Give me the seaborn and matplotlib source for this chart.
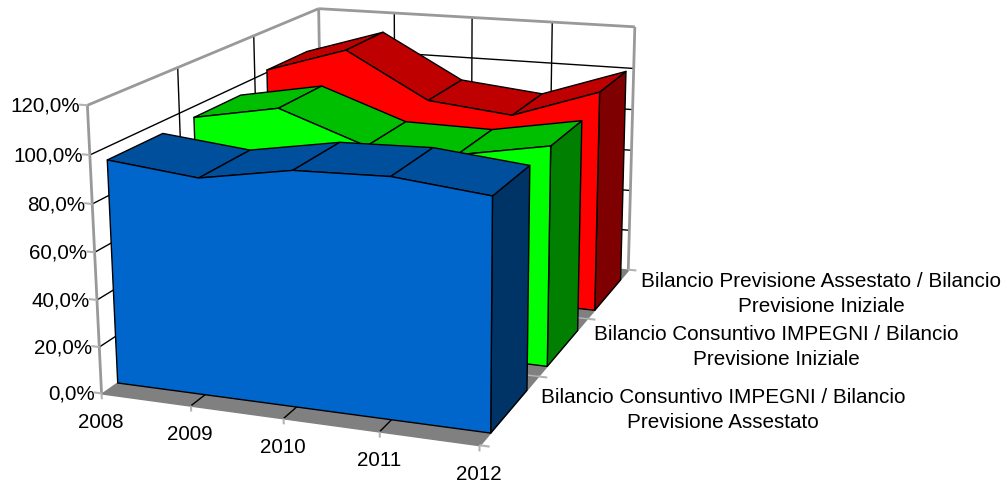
import matplotlib
matplotlib.use("Agg")
from matplotlib import pyplot as plt
from mpl_toolkits.mplot3d import proj3d
from mpl_toolkits.mplot3d.art3d import Poly3DCollection
import seaborn as sns

years = ["2008", "2009", "2010", "2011", "2012"]
pct_ticks = [0, 20, 40, 60, 80, 100, 120]
series_labels = [
    "Bilancio Consuntivo IMPEGNI / Bilancio\nPrevisione Assestato",
    "Bilancio Consuntivo IMPEGNI / Bilancio\nPrevisione Iniziale",
    "Bilancio Previsione Assestato / Bilancio\nPrevisione Iniziale",
]
consuntivo_assestato = [95, 91, 97.5, 98.5, 94.5]
consuntivo_iniziale = [95.5, 102.5, 89, 88.5, 95.5]
assestato_iniziale = [101.5, 113.5, 92.5, 88.5, 102]
series_values = [consuntivo_assestato, consuntivo_iniziale, assestato_iniziale]

# front, top and side shades of each series
series_colors = [
    ("#0066CC", "#004F9C", "#003366"),
    ("#00FF00", "#00BF00", "#007F00"),
    ("#FF0000", "#BF0000", "#7F0000"),
]

sns.set_theme(style="white")
plt.rcParams["font.family"] = ["Liberation Sans", "DejaVu Sans"]

FRAME = "#999999"
TICK = "#B3B3B3"
FONT = 14.9

fig = plt.figure(figsize=(10.07, 4.86), dpi=100)
ax = fig.add_axes([-125.62 / 1007, -0.5 + 18.887 / 486, 1000 / 1007, 1000 / 486], projection="3d")
ax.set_autoscale_on(False)
ax.computed_zorder = False
ax.set_axis_off()

n_x = len(years) - 1
n_y = len(series_labels)
z_top = pct_ticks[-1]
ax.set_xlim(0, n_x, view_margin=0)
ax.set_ylim(0, n_y, view_margin=0)
ax.set_zlim(0, z_top, view_margin=0)
ax.view_init(15.2588, -69.2639, 0.4169)
ax.set_proj_type("persp", focal_length=0.3565)
ax.set_box_aspect((1.346, 1.9565, 1), zoom=0.6832)

order = [0]


def face(verts, fill, edge="black", lw=1.0):
    order[0] += 1
    poly = Poly3DCollection([verts], facecolors=fill, edgecolors=edge, linewidths=lw, zorder=order[0])
    ax.add_collection3d(poly, autolim=False)


def seg(p, q, color="black", lw=1.0):
    order[0] += 1
    ax.plot([p[0], q[0]], [p[1], q[1]], [p[2], q[2]], color=color, lw=lw, zorder=order[0],
            solid_capstyle="butt")


def label(text, x, y, z, dx, dy, ha="center"):
    px, py, _ = proj3d.proj_transform(x, y, z, ax.get_proj())
    ax.annotate(text, xy=(px, py), xytext=(dx, dy), textcoords="offset pixels", ha=ha, va="center",
                ma="center", fontsize=FONT, color="black", annotation_clip=False, linespacing=1.42)


# walls
face([(0, 0, 0), (n_x, 0, 0), (n_x, n_y, 0), (0, n_y, 0)], "#808080", edge="#808080")
for z in pct_ticks[1:-1]:
    seg((0, 0, z), (0, n_y, z))
    seg((0, n_y, z), (n_x, n_y, z))
for x in range(1, n_x):
    seg((x, n_y, 0), (x, n_y, z_top))
    seg((x, 0, 0), (x, n_y, 0))
for y in range(1, n_y):
    seg((0, y, 0), (0, y, z_top))
    seg((0, y, 0), (n_x, y, 0), TICK)
seg((0, 0, 0), (0, 0, z_top), FRAME, 2)
seg((0, n_y, 0), (0, n_y, z_top), FRAME, 2)
seg((n_x, n_y, 0), (n_x, n_y, z_top), FRAME, 2)
seg((0, 0, z_top), (0, n_y, z_top), FRAME, 2)
seg((0, n_y, z_top), (n_x, n_y, z_top), FRAME, 2)

# tick marks
for z in pct_ticks:
    seg((0, 0, z), (-0.09, 0, z), TICK, 1.5)
for x in range(n_x + 1):
    seg((x, 0, 0), (x, 0, -2.5), TICK, 1.5)
for y in range(n_y + 1):
    seg((n_x, y, 0), (n_x + 0.1, y, 0), TICK, 1.5)

# one slab per series, back to front
for i in reversed(range(n_y)):
    y0, y1 = i + 0.17, i + 0.79
    vals = series_values[i]
    front, top, side = series_colors[i]
    face([(n_x, y0, 0), (n_x, y1, 0), (n_x, y1, vals[-1]), (n_x, y0, vals[-1])], side)
    for x in range(n_x):
        face([(x, y0, vals[x]), (x + 1, y0, vals[x + 1]), (x + 1, y1, vals[x + 1]), (x, y1, vals[x])], top)
    outline = [(x, y0, v) for x, v in enumerate(vals)]
    face([(0, y0, 0)] + outline + [(n_x, y0, 0)], front)

# text
for z in pct_ticks:
    label(f"{z},0%", 0, 0, z, -7, -1, ha="right")
for x, year in enumerate(years):
    label(year, x, 0, 0, -1, -29)
for i, text in enumerate(series_labels):
    label(text, n_x, i + 0.5, 0, 213, -1)

fig.savefig("out.png", dpi=100)
